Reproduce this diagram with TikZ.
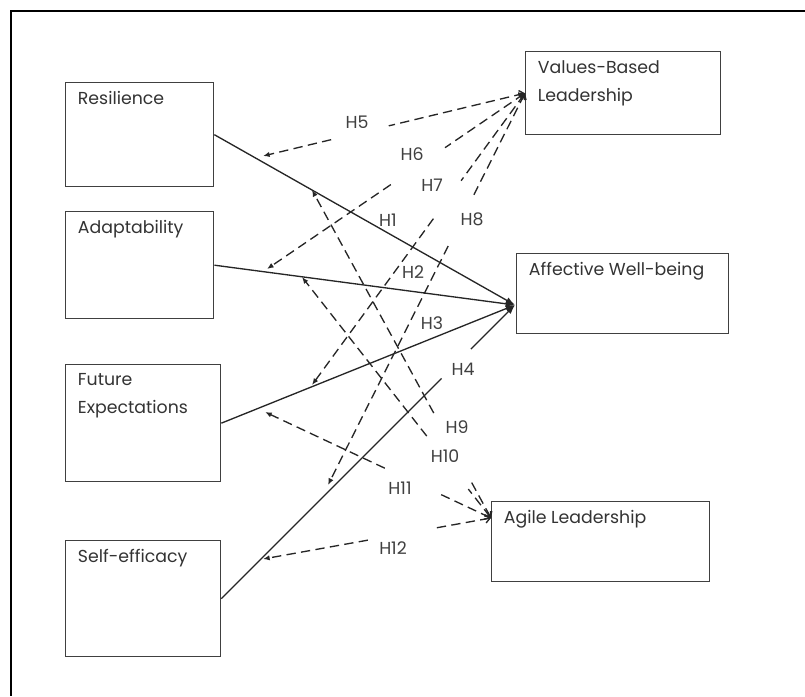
\documentclass[tikz,border=0pt]{standalone}
\usepackage{fontspec}
\setmainfont{Poppins}
\usetikzlibrary{arrows.meta,calc}
\begin{document}
\begin{tikzpicture}[x=0.75pt, y=-0.75pt,
	font=\fontsize{13}{21}\selectfont,
	box/.style={draw=black!75, line width=1pt, anchor=north west, inner sep=0pt,
		label={[anchor=north west, inner xsep=9.5pt, inner ysep=7pt, align=left, text=black!80]north west:#1}},
	eff/.style={draw=black!85, line width=1pt, -{Latex[length=7pt,width=5pt]}},
	hyp/.style={draw=black!85, line width=1pt, dash pattern=on 7pt off 4pt},
	tomod/.style={hyp, {Straight Barb[length=3.5pt,width=6pt]}-},
	toiv/.style={hyp, -{Latex[length=5pt,width=4pt]}},
	hlbl/.style={text=black!75, inner sep=1pt}]
	\useasboundingbox (0, 0) rectangle (805, 696);
	\draw[line width=1.5pt] (805, 11) -- (11, 11) -- (11, 696);

	% independent variables
	\node[box = Resilience, minimum width=111pt, minimum height=78pt] at (65, 82) (res) {};
	\node[box = Adaptability, minimum width=111pt, minimum height=80.25pt] at (65, 211) (ada) {};
	\node[box = {Future\\Expectations}, minimum width=116.25pt, minimum height=87.75pt] at (65, 364) (fut) {};
	\node[box = Self-efficacy, minimum width=116.25pt, minimum height=87pt] at (65, 540) (sef) {};

	% moderators and outcome
	\node[box = {Values-Based\\Leadership}, minimum width=146.25pt, minimum height=62.25pt] at (525, 51) (vbl) {};
	\node[box = Affective Well-being, minimum width=159pt, minimum height=60pt] at (516, 253) (awb) {};
	\node[box = Agile Leadership, minimum width=163.5pt, minimum height=60pt] at (491, 501) (agl) {};

	\coordinate (awbin) at (515, 305);
	\coordinate (aglin) at (491, 518);
	\coordinate (r5) at (263, 156);
	\coordinate (r6) at (267, 269);
	\coordinate (r7) at (312, 385);
	\coordinate (r8) at (328, 485);
	\coordinate (r9) at (312, 190);
	\coordinate (r10) at (302, 277);
	\coordinate (r11) at (265, 412);
	\coordinate (r12) at (263, 559);

	% direct effects
	\draw[eff] (res.east) -- (awbin);
	\draw[eff] (ada.east) -- (awbin);
	\draw[eff] (fut.east) -- (awbin);
	\draw[eff] (sef.east) -- ($(sef.east)!.75!(awbin)$) ($(sef.east)!.85!(awbin)$) -- (awbin);

	% values-based leadership
	\draw[tomod] (vbl.west) -- ($(vbl.west)!.52!(r5)$);
	\draw[toiv] ($(vbl.west)!.74!(r5)$) -- (r5);
	\draw[tomod] (vbl.west) -- ($(vbl.west)!.31!(r6)$);
	\draw[toiv] ($(vbl.west)!.52!(r6)$) -- (r6);
	\draw[tomod] (vbl.west) -- ($(vbl.west)!.30!(r7)$);
	\draw[toiv] ($(vbl.west)!.43!(r7)$) -- (r7);
	\draw[tomod] (vbl.west) -- ($(vbl.west)!.27!(r8)$);
	\draw[toiv] ($(vbl.west)!.39!(r8)$) -- (r8);

	% agile leadership
	\draw[tomod] (aglin) -- ($(aglin)!.11!(r9)$);
	\draw[toiv] ($(aglin)!.32!(r9)$) -- (r9);
	\draw[tomod] (aglin) -- ($(aglin)!.12!(r10)$);
	\draw[toiv] ($(aglin)!.34!(r10)$) -- (r10);
	\draw[tomod] (aglin) -- ($(aglin)!.23!(r11)$);
	\draw[toiv] ($(aglin)!.47!(r11)$) -- (r11);
	\draw[tomod] (aglin) -- ($(aglin)!.25!(r12)$);
	\draw[toiv] ($(aglin)!.54!(r12)$) -- (r12);

	\node[hlbl] at (388, 220) (l1) {H1};
	\node[hlbl] at (413, 272) (l2) {H2};
	\node[hlbl] at (432, 323) (l3) {H3};
	\node[hlbl] at (463, 369) (l4) {H4};
	\node[hlbl] at (357, 122) (l5) {H5};
	\node[hlbl] at (412, 154) (l6) {H6};
	\node[hlbl] at (432, 185) (l7) {H7};
	\node[hlbl] at (472, 219) (l8) {H8};
	\node[hlbl] at (457, 427) (l9) {H9};
	\node[hlbl] at (445, 456) (l10) {H10};
	\node[hlbl] at (400, 488) (l11) {H11};
	\node[hlbl] at (393, 548) (l12) {H12};
\end{tikzpicture}
\end{document}
